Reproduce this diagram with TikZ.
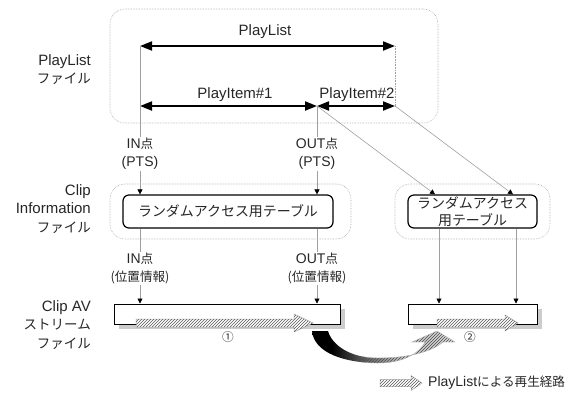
\documentclass[tikz,border=0pt]{standalone}
\usepackage{fontspec}
\setmainfont{Liberation Sans}
\newfontfamily\cjk[Scale=0.9]{Noto Sans CJK JP}
\usetikzlibrary{arrows.meta,patterns,calc}
\pgfdeclarehorizontalshading{myfade}{100bp}{color(0bp)=(black); color(32bp)=(black); color(55bp)=(gray!50); color(100bp)=(white)}
\begin{document}
\begin{tikzpicture}[x=1pt,y=-1pt,
  txt/.style={text=black!85, font=\fontsize{15}{18.5}\selectfont, inner sep=0pt},
  smalltxt/.style={text=black!85, font=\fontsize{14}{18}\selectfont, align=center, inner sep=1pt},
  lefttxt/.style={txt, align=right, anchor=east},
  dbox/.style={draw=gray!70, densely dotted, line width=0.6pt, rounded corners=15pt},
  tbox/.style={draw=black, line width=1.2pt, rounded corners=6pt, fill=white, align=center, text=black!85,
     font=\fontsize{15.5}{17}\selectfont, inner sep=0pt},
  bigarr/.style={line width=2pt, {Triangle[length=12pt,width=9pt]}-{Triangle[length=12pt,width=9pt]}},
  thinln/.style={draw=gray!75, line width=0.6pt},
  thinarr/.style={draw=gray!75, line width=0.6pt, -{Triangle[length=5pt,width=5pt,color=black]}},
  hatch/.style={fill=white, postaction={pattern=north east lines, pattern color=black!65}, draw=gray!70, line width=0.5pt},
  bar/.style={draw=black, line width=1pt, fill=white, inner sep=0pt},
  shadowbar/.style={fill=gray!40, draw=none, inner sep=0pt}
]
\useasboundingbox (0,0) rectangle (572,392);

% ---------- PlayList file ----------
\node[dbox, minimum width=328pt, minimum height=114pt] (plbox) at (274,66) {};
\node[lefttxt] (lblpl) at (91,69.5) {PlayList\\{\cjk ファイル}};
\coordinate (plL) at (140,46);
\coordinate (plR) at (395,46);
\coordinate (piL) at (140,106);
\coordinate (piM) at (317,106);
\coordinate (piR) at (395,106);
\draw[bigarr] (plL) -- (plR);
\draw[bigarr] (piL) -- (piM);
\draw[bigarr] (piM) -- (piR);
\node[txt] (tpl) at (265,32) {PlayList};
\node[txt] (tpi1) at (235,95) {PlayItem\#1};
\node[txt] (tpi2) at (357,95) {PlayItem\#2};

% ---------- Clip Information file ----------
\node[dbox, minimum width=241pt, minimum height=55pt] (cibox1) at (230.5,211.5) {};
\node[dbox, minimum width=155pt, minimum height=55pt] (cibox2) at (472.5,211.5) {};
\node[tbox, minimum width=210pt, minimum height=33pt] (tab1) at (228,211.5) {\cjk ランダムアクセス用テーブル};
\node[tbox, minimum width=129pt, minimum height=33pt] (tab2) at (472.5,211.5) {\cjk ランダムアクセス\\\cjk 用テーブル};
\node[lefttxt] (lblci) at (91,209) {Clip\\Information\\{\cjk ファイル}};

% ---------- Clip AV stream file ----------
\node[shadowbar, minimum width=226pt, minimum height=20pt] (sh1) at (232,319) {};
\node[shadowbar, minimum width=129pt, minimum height=20pt] (sh2) at (477.5,319) {};
\node[bar, minimum width=226pt, minimum height=20pt] (bar1) at (227,314) {};
\node[bar, minimum width=129pt, minimum height=20pt] (bar2) at (472.5,314) {};
\node[lefttxt] (lblav) at (91,325) {Clip AV\\{\cjk ストリーム}\\{\cjk ファイル}};

\path[hatch] (136,319) -- (294,319) -- (294,314) -- (313,323) -- (294,332) -- (294,327) -- (136,327) -- cycle;
\path[hatch] (437,319) -- (505,319) -- (505,315) -- (518,323) -- (505,331) -- (505,327) -- (437,327) -- cycle;
\node[txt, font=\fontsize{13}{13}\selectfont] (n1) at (228,337) {\cjk ①};
\node[txt, font=\fontsize{13}{13}\selectfont] (n2) at (470,337) {\cjk ②};

% ---------- labels and connectors ----------
\node[smalltxt] (inpts) at (140,154) {IN{\cjk 点}\\(PTS)};
\node[smalltxt] (outpts) at (317,154) {OUT{\cjk 点}\\(PTS)};
\node[smalltxt] (inpos) at (140,268.5) {IN{\cjk 点}\\{\cjk (位置情報)}};
\node[smalltxt] (outpos) at (317,268.5) {OUT{\cjk 点}\\{\cjk (位置情報)}};

\draw[thinln] (plL) -- (inpts.north);
\draw[thinarr] (inpts.south) -- (tab1.north -| inpts.south);
\draw[thinln] (tab1.south -| inpos.north) -- (inpos.north);
\draw[thinarr] (inpos.south) -- (bar1.north -| inpos.south);
\draw[thinln] (piM) -- (outpts.north);
\draw[thinarr] (outpts.south) -- (tab1.north -| outpts.south);
\draw[thinln] (tab1.south -| outpos.north) -- (outpos.north);
\draw[thinarr] (outpos.south) -- (bar1.north -| outpos.south);
\draw[thinln, densely dotted] (plR) -- (piR);
\draw[thinarr] (piM) -- ([xshift=-37.5pt]tab2.north);
\draw[thinarr] (piR) -- ([xshift=40.5pt]tab2.north);
\draw[thinarr] ([xshift=-33.5pt]tab2.south) -- ([xshift=-33.5pt]bar2.north);
\draw[thinarr] ([xshift=43.5pt]tab2.south) -- ([xshift=43.5pt]bar2.north);

% ---------- curved jump arrow ----------
\def\jumppath{(312,331) .. controls (314,353) and (345,363) .. (378,363) .. controls (405,363) and (420,352) .. (425,342)
  -- (412,342) -- (437,331) -- (455,342) -- (443,342)
  .. controls (430,353) and (405,358) .. (378,358) .. controls (350,358) and (332,345) .. (328,331) -- cycle}
\path[shading=myfade] \jumppath;
\begin{scope}
  \clip (362,320) rectangle (470,370);
  \path[pattern=north east lines, pattern color=black!70] \jumppath;
  \draw[gray!60, line width=0.4pt] \jumppath;
\end{scope}

% ---------- legend ----------
\path[hatch] (380,379.5) -- (411,379.5) -- (411,375.5) -- (422,383) -- (411,390.5) -- (411,386.5) -- (380,386.5) -- cycle;
\node[txt, anchor=west, font=\fontsize{14}{14}\selectfont] (legtxt) at (428,383) {PlayList{\cjk による再生経路}};
\end{tikzpicture}
\end{document}
